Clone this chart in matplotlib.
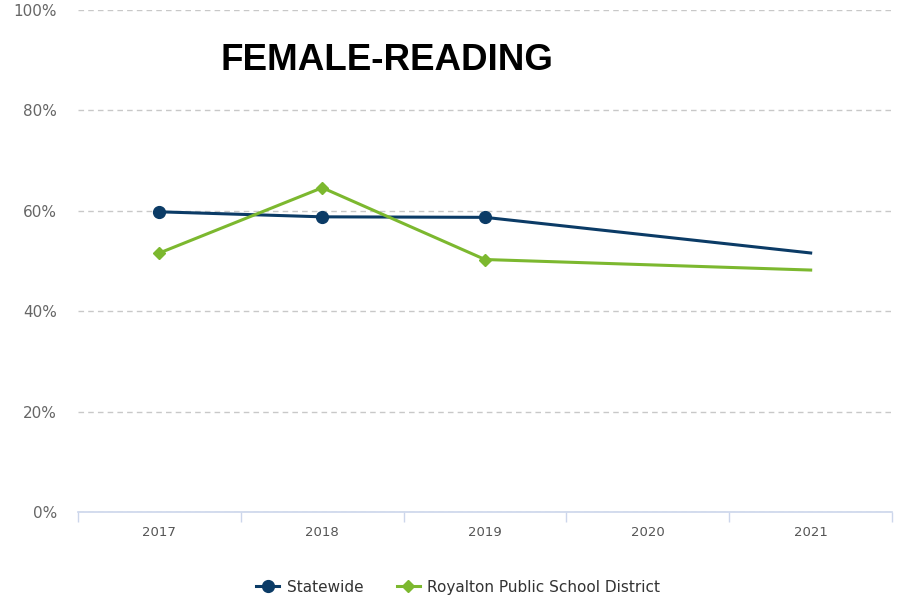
import matplotlib
matplotlib.use('Agg')
import matplotlib.pyplot as plt

years = ['2017', '2018', '2019', '2020', '2021']
# 2020 has no results, so both series skip it
positions = [0, 1, 2, 4]
statewide = [59.8, 58.8, 58.7, 51.6]
royalton = [51.6, 64.6, 50.3, 48.2]
y_ticks = [0, 20, 40, 60, 80, 100]

navy = '#0b3b66'
green = '#7cb82f'
axis_col = '#ccd6eb'

fig = plt.figure(figsize=(9.02, 5.99), dpi=100)
ax = fig.add_axes([0.0865, 0.1452, 0.9025, 0.8381])

ax.plot(positions, statewide, color=navy, lw=2.2, marker='o', ms=8.5,
        markevery=[0, 1, 2], label='Statewide', zorder=3)
ax.plot(positions, royalton, color=green, lw=2.2, marker='D', ms=6,
        markevery=[0, 1, 2], label='Royalton Public School District', zorder=3)

ax.set_xlim(-0.5, 4.5)
ax.set_ylim(0, 100)
ax.set_yticks(y_ticks)
ax.set_yticklabels([f'{v}%' for v in y_ticks])
ax.set_xticks(range(len(years)))
ax.set_xticklabels(years)
ax.set_xticks([i - 0.5 for i in range(len(years) + 1)], minor=True)

ax.yaxis.grid(True, color='#c8c8c8', linestyle=(0, (4, 3)), lw=1)
ax.set_axisbelow(True)
for s in ['top', 'right', 'left']:
    ax.spines[s].set_visible(False)
ax.spines['bottom'].set_color(axis_col)
ax.spines['bottom'].set_linewidth(1.2)

ax.tick_params(axis='y', length=0, pad=15, labelsize=11, labelcolor='#666666')
ax.tick_params(axis='x', which='major', length=0, pad=10, labelsize=9.5, labelcolor='#555555')
ax.tick_params(axis='x', which='minor', length=7.5, width=1, color=axis_col)

ax.text(0.38, 0.90, 'FEMALE-READING', transform=ax.transAxes, ha='center', va='center',
        fontsize=26.5, fontweight='bold', family='Liberation Sans', color='black')

fig.legend(loc='center', bbox_to_anchor=(0.508, 0.02), ncol=2, frameon=False,
           fontsize=11, labelcolor='#333333', handlelength=1.5, columnspacing=2.2,
           handletextpad=0.5)

fig.savefig('out.png', dpi=100)
